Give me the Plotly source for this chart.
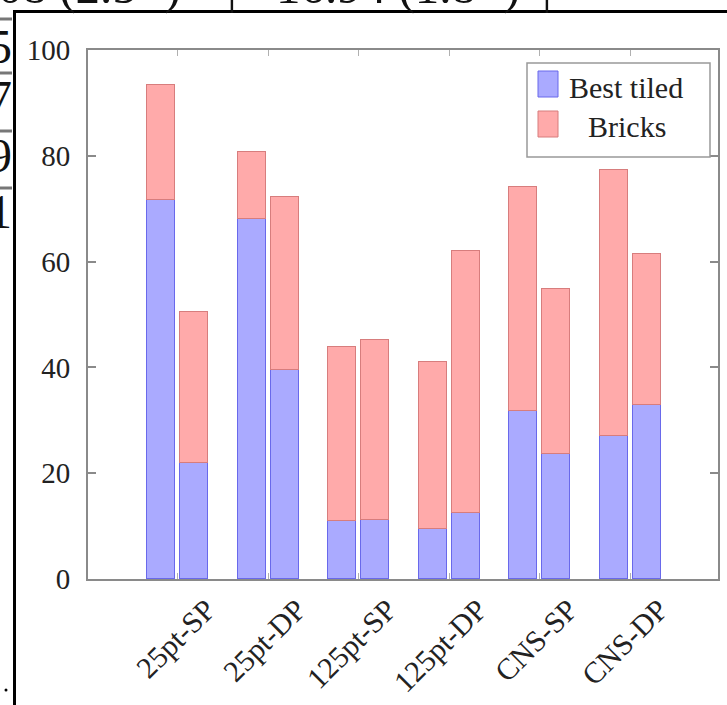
import plotly.graph_objects as go

# ---------------- data ----------------
categories = ["25pt-SP", "25pt-DP", "125pt-SP", "125pt-DP", "CNS-SP", "CNS-DP"]
best_tiled_a = [71.6, 68.1, 11.0, 9.5, 31.8, 27.0]
best_tiled_b = [21.9, 39.5, 11.2, 12.5, 23.6, 32.9]
total_a = [93.4, 80.7, 43.9, 41.0, 74.1, 77.3]
total_b = [50.5, 72.2, 45.2, 62.0, 54.8, 61.4]
bricks_a = [round(t - b, 1) for t, b in zip(total_a, best_tiled_a)]
bricks_b = [round(t - b, 1) for t, b in zip(total_b, best_tiled_b)]
y_ticks = [0, 20, 40, 60, 80, 100]
legend_names = ["Best tiled", "Bricks"]

# ---------------- style ----------------
W, H = 727, 705
L, R, T, B = 88, 718, 50, 579
FONT = "Liberation Serif"
TXT = "#222222"
BLUE_FILL = "rgb(170,170,255)"
BLUE_LINE = "rgb(105,105,235)"
RED_FILL = "rgb(255,170,170)"
RED_LINE = "rgb(215,125,125)"
AXIS = "#8a8a8a"
OFF = 0.182
BW = 0.31
X_RANGE = [0.01, 6.97]
LABEL_SHIFT = 0.32  # rotated labels end to the right of the group centre


def px(x):
    return (x - L) / (R - L)


def py(y):
    return (B - y) / (B - T)


groups = list(range(1, len(categories) + 1))
xa = [g - OFF for g in groups]
xb = [g + OFF for g in groups]

fig = go.Figure()
for xs, blue, red in [(xa, best_tiled_a, bricks_a), (xb, best_tiled_b, bricks_b)]:
    fig.add_trace(go.Bar(x=xs, y=blue, width=BW, name=legend_names[0],
                         marker=dict(color=BLUE_FILL, line=dict(color=BLUE_LINE, width=1.5)),
                         showlegend=False))
    fig.add_trace(go.Bar(x=xs, y=red, width=BW, name=legend_names[1],
                         marker=dict(color=RED_FILL, line=dict(color=RED_LINE, width=1.5)),
                         showlegend=False))

# dummy trace for the label axis
fig.add_trace(go.Scatter(x=groups, y=[None] * len(groups), xaxis="x2", mode="markers",
                         showlegend=False, hoverinfo="skip"))

fig.update_layout(
    width=W, height=H,
    margin=dict(l=L, r=W - R, t=T, b=H - B, pad=0, autoexpand=False),
    paper_bgcolor="white", plot_bgcolor="white",
    barmode="stack", bargap=0,
    font=dict(family=FONT, size=30, color=TXT),
    xaxis=dict(range=X_RANGE, showgrid=False, zeroline=False, showline=True,
               linecolor=AXIS, linewidth=2, mirror="ticks", showticklabels=False,
               automargin=False,
               tickvals=groups, ticks="inside", ticklen=6, tickcolor="#b0b0b0", tickwidth=1),
    xaxis2=dict(range=[X_RANGE[0] - LABEL_SHIFT, X_RANGE[1] - LABEL_SHIFT],
                overlaying="x", anchor="y", side="bottom", automargin=False,
                tickvals=groups, ticktext=categories, tickangle=-45,
                showgrid=False, zeroline=False, showline=False, ticks="",
                ticklabelstandoff=6,
                tickfont=dict(family=FONT, size=30, color=TXT)),
    yaxis=dict(range=[0, 100], tickvals=y_ticks, showgrid=False, zeroline=False,
               showline=True, linecolor=AXIS, linewidth=2, mirror="ticks",
               automargin=False,
               ticks="inside", ticklen=8, tickcolor=AXIS, tickwidth=1.5,
               ticklabelstandoff=10,
               tickfont=dict(family=FONT, size=29, color=TXT)),
)

shapes = []
annotations = []

# legend (drawn manually, centered text like pgfplots)
shapes.append(dict(type="rect", xref="paper", yref="paper",
                   x0=px(527), x1=px(710), y0=py(157), y1=py(63),
                   line=dict(color="#999999", width=1.5), fillcolor="white"))
shapes.append(dict(type="rect", xref="paper", yref="paper",
                   x0=px(538), x1=px(558), y0=py(97), y1=py(71),
                   line=dict(color=BLUE_LINE, width=1), fillcolor=BLUE_FILL))
shapes.append(dict(type="rect", xref="paper", yref="paper",
                   x0=px(538), x1=px(558), y0=py(137), y1=py(111),
                   line=dict(color=RED_LINE, width=1), fillcolor=RED_FILL))
annotations.append(dict(text=legend_names[0], xref="paper", yref="paper",
                        x=px(626), y=py(87), xanchor="center", yanchor="middle",
                        showarrow=False, font=dict(family=FONT, size=30, color=TXT)))
annotations.append(dict(text=legend_names[1], xref="paper", yref="paper",
                        x=px(627), y=py(127), xanchor="center", yanchor="middle",
                        showarrow=False, font=dict(family=FONT, size=30, color=TXT)))

# surrounding document fragments (cropped table)
top_font = dict(family=FONT, size=49, color="#111111")
TOP_Y = 16
annotations.append(dict(text="08 (2.5×)", xref="paper", yref="paper", x=px(-4), y=py(TOP_Y),
                        xanchor="left", yanchor="bottom", showarrow=False, font=top_font))
annotations.append(dict(text="|", xref="paper", yref="paper", x=px(232), y=py(TOP_Y),
                        xanchor="center", yanchor="bottom", showarrow=False, font=top_font))
annotations.append(dict(text="16.94 (1.8×)", xref="paper", yref="paper", x=px(274), y=py(TOP_Y),
                        xanchor="left", yanchor="bottom", showarrow=False, font=top_font))
annotations.append(dict(text="|", xref="paper", yref="paper", x=px(547), y=py(TOP_Y),
                        xanchor="center", yanchor="bottom", showarrow=False, font=top_font))
left_font = dict(family=FONT, size=48, color="#111111")
for ch, yc in [("5", 47), ("7", 98), ("9", 155), ("1", 211)]:
    annotations.append(dict(text=ch, xref="paper", yref="paper", x=px(14), y=py(yc),
                            xanchor="right", yanchor="middle", showarrow=False, font=left_font))
for yl in [19, 73, 131, 188]:
    shapes.append(dict(type="line", xref="paper", yref="paper",
                       x0=px(0), x1=px(12), y0=py(yl), y1=py(yl),
                       line=dict(color="#777777", width=3)))
shapes.append(dict(type="circle", xref="paper", yref="paper",
                   x0=px(4.5), x1=px(7.5), y0=py(691.5), y1=py(688.5),
                   line=dict(color="black", width=0), fillcolor="black"))
# black frame of the embedded image
shapes.append(dict(type="line", xref="paper", yref="paper",
                   x0=px(13), x1=px(730), y0=py(11.5), y1=py(11.5),
                   line=dict(color="black", width=3)))
shapes.append(dict(type="line", xref="paper", yref="paper",
                   x0=px(14.5), x1=px(14.5), y0=py(10), y1=py(710),
                   line=dict(color="black", width=3)))

fig.update_layout(shapes=shapes, annotations=annotations)
fig.write_html("out.html")
